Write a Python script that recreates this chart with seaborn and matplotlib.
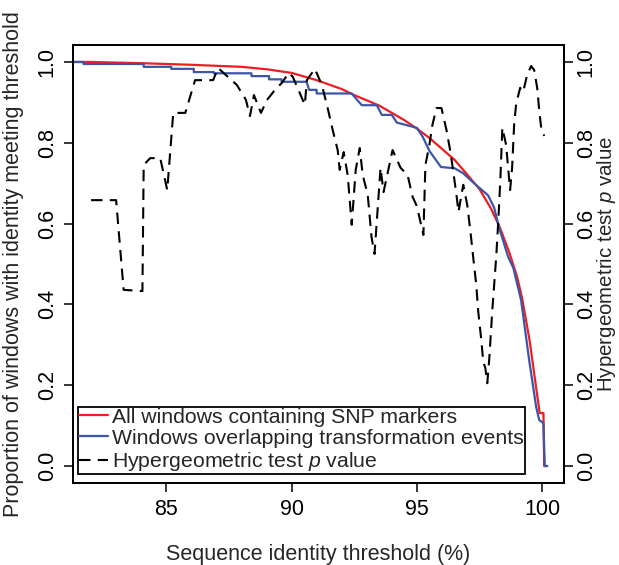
import matplotlib
matplotlib.use("Agg")
import matplotlib.pyplot as plt
import pandas as pd
import seaborn as sns

# all windows containing SNP markers (red curve)
snp_x = [81.0, 82.0, 84.0, 86.0, 88.0, 89.0, 90.0, 91.0, 91.5, 92.0, 92.5, 93.0,
         93.5, 94.0, 94.5, 95.0, 95.5, 96.0, 96.5, 97.0, 97.5, 97.95, 98.3, 98.68,
         99.0, 99.2, 99.5, 99.7, 99.9, 100.05, 100.08, 100.2]
snp_y = [1.0, 1.0, 0.997, 0.993, 0.988, 0.982, 0.973, 0.955, 0.944, 0.933, 0.918, 0.905,
         0.892, 0.874, 0.856, 0.835, 0.812, 0.785, 0.758, 0.722, 0.685, 0.638, 0.592, 0.53,
         0.468, 0.415, 0.31, 0.22, 0.131, 0.131, 0.0, 0.0]

# windows overlapping transformation events (blue, stepped)
event_x = [81.0, 81.7, 81.7, 84.1, 84.1, 85.2, 85.2, 86.1, 86.1, 86.9, 86.9, 88.4,
           88.4, 89.1, 89.1, 89.6, 89.6, 90.6, 90.7, 91.0, 91.0, 92.4, 92.8, 93.4,
           93.6, 94.0, 94.2, 95.0, 95.24, 95.5, 95.96, 96.5, 96.84, 97.28, 97.84, 98.08,
           98.28, 98.64, 98.85, 99.16, 99.48, 99.76, 99.88, 100.05, 100.1, 100.2]
event_y = [1.0, 1.0, 0.995, 0.995, 0.988, 0.988, 0.983, 0.983, 0.975, 0.975, 0.972, 0.972,
           0.965, 0.965, 0.957, 0.957, 0.951, 0.951, 0.931, 0.931, 0.922, 0.922, 0.893, 0.893,
           0.869, 0.869, 0.85, 0.837, 0.814, 0.78, 0.74, 0.737, 0.725, 0.70, 0.67, 0.64,
           0.59, 0.518, 0.49, 0.41, 0.262, 0.146, 0.114, 0.106, 0.0, 0.0]

# hypergeometric test p value (dashed, right axis)
pval_x = [82.0, 83.0, 83.3, 84.05, 84.1, 84.36, 84.76, 85.04, 85.28, 85.76, 86.15, 86.87,
          87.07, 87.82, 88.18, 88.34, 88.5, 88.78, 89.02, 89.34, 89.61, 89.89, 90.05, 90.53,
          90.61, 90.93, 91.21, 91.44, 91.64, 91.84, 91.92, 92.08, 92.24, 92.4, 92.56, 92.72,
          92.84, 93.04, 93.19, 93.31, 93.55, 93.67, 94.03, 94.35, 94.63, 94.83, 94.98, 95.1,
          95.26, 95.34, 95.5, 95.62, 95.78, 95.98, 96.18, 96.34, 96.46, 96.58, 96.66, 96.85,
          97.01, 97.13, 97.25, 97.37, 97.45, 97.57, 97.65, 97.73, 97.81, 97.89, 98.01, 98.17,
          98.25, 98.33, 98.41, 98.56, 98.72, 98.8, 98.88, 98.96, 99.12, 99.24, 99.4, 99.56,
          99.68, 99.8, 99.88, 99.96, 100.08]
pval_y = [0.658, 0.658, 0.436, 0.433, 0.745, 0.762, 0.762, 0.683, 0.874, 0.874, 0.955, 0.955,
          0.985, 0.943, 0.906, 0.866, 0.918, 0.874, 0.906, 0.931, 0.948, 0.973, 0.963, 0.894,
          0.955, 0.983, 0.943, 0.886, 0.832, 0.782, 0.733, 0.777, 0.72, 0.597, 0.733, 0.787,
          0.72, 0.671, 0.567, 0.525, 0.738, 0.678, 0.782, 0.738, 0.72, 0.666, 0.646, 0.616,
          0.572, 0.745, 0.795, 0.844, 0.886, 0.886, 0.832, 0.777, 0.725, 0.671, 0.629, 0.696,
          0.646, 0.584, 0.515, 0.448, 0.381, 0.312, 0.257, 0.243, 0.205, 0.267, 0.386, 0.522,
          0.609, 0.708, 0.837, 0.795, 0.683, 0.738, 0.844, 0.896, 0.936, 0.926, 0.968, 0.99,
          0.98, 0.936, 0.881, 0.837, 0.817]

x_ticks = [85, 90, 95, 100]
y_ticks = [0.0, 0.2, 0.4, 0.6, 0.8, 1.0]

labels = ["All windows containing SNP markers",
          "Windows overlapping transformation events",
          "Hypergeometric test $\\mathit{p}$ value"]

sns.set_style("ticks")
plt.rcParams["font.family"] = ["Liberation Sans", "DejaVu Sans"]
plt.rcParams["mathtext.fontset"] = "custom"
plt.rcParams["mathtext.rm"] = "Liberation Sans"
plt.rcParams["mathtext.it"] = "Liberation Sans:italic"
fs = 15.5

fig = plt.figure(figsize=(6.19, 5.65), dpi=100)
ax = fig.add_axes([73 / 619, 1 - 483 / 565, 491 / 619, 438 / 565])

snp_df = pd.DataFrame({"x": snp_x, "y": snp_y})
event_df = pd.DataFrame({"x": event_x, "y": event_y})
pval_df = pd.DataFrame({"x": pval_x, "y": pval_y})

sns.lineplot(data=snp_df, x="x", y="y", sort=False, estimator=None, color="#f01c24",
             lw=1.6, ax=ax, legend=False)
sns.lineplot(data=event_df, x="x", y="y", sort=False, estimator=None, color="#3b56a8",
             lw=1.6, ax=ax, legend=False)

ax2 = ax.twinx()
sns.lineplot(data=pval_df, x="x", y="y", sort=False, estimator=None, color="black",
             lw=1.5, linestyle=(0, (5.5, 3.5)), ax=ax2, legend=False)

for a in (ax, ax2):
    a.set_xlim(81.28, 100.87)
    a.set_ylim(-0.042, 1.042)
    a.set_yticks(y_ticks)
    a.set_yticklabels([f"{v:.1f}" for v in y_ticks], rotation=90, va="center")
    a.tick_params(length=6.5, width=1.1, direction="out", labelsize=fs, colors="black")
    for s in a.spines.values():
        s.set_visible(True)
        s.set_linewidth(1.3)
        s.set_color("black")

ax.set_xticks(x_ticks)
ax.set_xticklabels([str(v) for v in x_ticks])
ax.tick_params(axis="x", pad=4.7)
ax.tick_params(axis="y", pad=4.5)
ax2.tick_params(axis="y", pad=2.0)

ax.set_xlabel("Sequence identity threshold (%)", fontsize=fs, labelpad=17.3)
ax.set_ylabel("Proportion of windows with identity meeting threshold", fontsize=fs,
              labelpad=9.5)
ax2.set_ylabel("Hypergeometric test $\\mathit{p}$ value", fontsize=14.8, labelpad=-1.1)

handles = [ax.get_lines()[0], ax.get_lines()[1], ax2.get_lines()[0]]
leg = ax2.legend(handles, labels, loc="lower left", bbox_to_anchor=(0.0102, 0.0205),
                 borderaxespad=0, fontsize=15.3, handlelength=1.35, handletextpad=0.22,
                 labelspacing=0.1, borderpad=0.05, fancybox=False, framealpha=1,
                 edgecolor="black")
leg.get_frame().set_linewidth(1.3)

fig.savefig("out.png", dpi=100)
